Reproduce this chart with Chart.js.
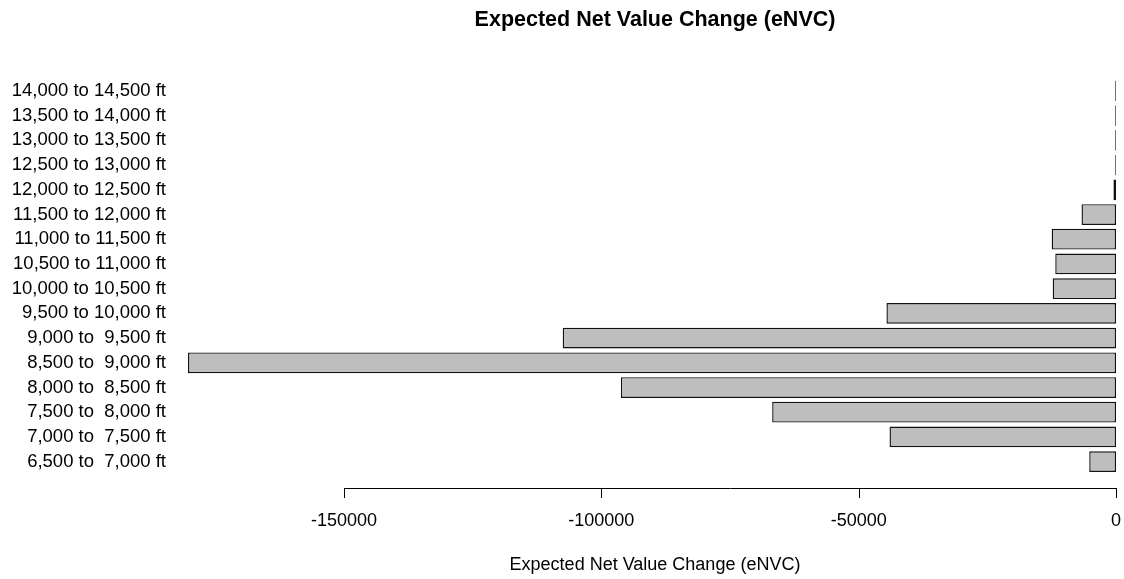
<!DOCTYPE html>
<html>
<head>
<meta charset="utf-8">
<title>Expected Net Value Change (eNVC)</title>
<script src="https://cdn.jsdelivr.net/npm/chart.js@4.4.1/dist/chart.umd.min.js"></script>
<style>
    html, body { margin: 0; padding: 0; background: #fff; }
    #envcChart { display: block; }
</style>
</head>
<body>
<canvas id="envcChart" width="1124" height="579"></canvas>
<script>
// elevation bands, lowest first
const bands = [
    '6,500 to  7,000 ft', '7,000 to  7,500 ft', '7,500 to  8,000 ft', '8,000 to  8,500 ft',
    '8,500 to  9,000 ft', '9,000 to  9,500 ft', '9,500 to 10,000 ft', '10,000 to 10,500 ft',
    '10,500 to 11,000 ft', '11,000 to 11,500 ft', '11,500 to 12,000 ft', '12,000 to 12,500 ft',
    '12,500 to 13,000 ft', '13,000 to 13,500 ft', '13,500 to 14,000 ft', '14,000 to 14,500 ft'
];
const envc = [
    -5200, -44000, -66800, -96200,
    -180300, -107500, -44600, -12300,
    -11800, -12500, -6700, -500,
    -150, -150, -150, -150
];
const xTicks = [-150000, -100000, -50000, 0];
const xMin = -183800;
const xMax = 0;

const FONT = "'Liberation Sans', Arial, sans-serif";
const TITLE = 'Expected Net Value Change (eNVC)';

// R-style annotations: title over the plot region, bottom axis whose
// line only spans the first..last tick, and the axis title
const baseAxis = {
    id: 'baseAxis',
    afterDraw(chart) {
        const ctx = chart.ctx;
        const x = chart.scales.x;
        const midX = 655;
        const y0 = 488;
        ctx.save();
        ctx.strokeStyle = '#000';
        ctx.lineWidth = 1;
        ctx.beginPath();
        ctx.moveTo(Math.round(x.getPixelForValue(xTicks[0])) + 0.5, y0 + 0.5);
        ctx.lineTo(Math.round(x.getPixelForValue(xTicks[xTicks.length - 1])) + 0.5, y0 + 0.5);
        xTicks.forEach(v => {
            const px = Math.round(x.getPixelForValue(v)) + 0.5;
            ctx.moveTo(px, y0);
            ctx.lineTo(px, y0 + 10);
        });
        ctx.stroke();

        ctx.fillStyle = '#000';
        ctx.textAlign = 'center';
        ctx.textBaseline = 'middle';
        ctx.font = '18px ' + FONT;
        xTicks.forEach(v => {
            ctx.fillText(String(v), x.getPixelForValue(v), 521);
        });
        ctx.fillText(TITLE, midX, 565);

        ctx.font = 'bold 21.5px ' + FONT;
        ctx.fillText(TITLE, midX, 20);
        ctx.restore();
    }
};

new Chart(document.getElementById('envcChart'), {
    type: 'bar',
    data: {
        labels: bands,
        datasets: [{
            data: envc,
            backgroundColor: '#BEBEBE',
            borderColor: '#111',
            borderWidth: 1.4,
            borderSkipped: false,
            barPercentage: 0.84,
            categoryPercentage: 1,
            clip: false
        }]
    },
    options: {
        indexAxis: 'y',
        responsive: false,
        animation: false,
        layout: {
            padding: { left: 0, right: 8, top: 78.6, bottom: 105 }
        },
        scales: {
            x: {
                display: false,
                min: xMin,
                max: xMax
            },
            y: {
                reverse: true,
                grid: { display: false, drawTicks: false },
                border: { display: false },
                ticks: {
                    color: '#000',
                    padding: 4,
                    autoSkip: false,
                    font: { family: FONT, size: 18.5 }
                },
                afterFit(scale) {
                    scale.width = 170;
                }
            }
        },
        plugins: {
            legend: { display: false },
            tooltip: { enabled: false },
            title: { display: false }
        }
    },
    plugins: [baseAxis]
});
</script>
</body>
</html>
